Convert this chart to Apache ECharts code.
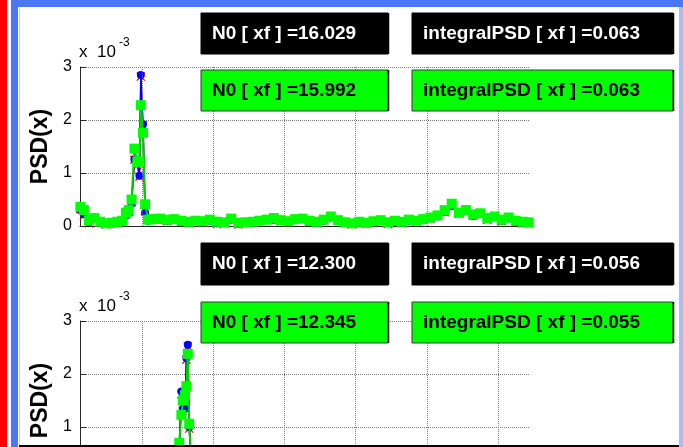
<!DOCTYPE html>
<html><head><meta charset="utf-8">
<script src="https://cdn.jsdelivr.net/npm/echarts@6/dist/echarts.min.js"></script>
<style>html,body{margin:0;padding:0;background:#fff}#c{width:683px;height:447px}</style>
</head><body><div id="c"></div>
<script>
// ---------- data (PSD values in units of 1e-3) ----------
const xTop = [1.3, 1.8, 2.5, 3.3, 4.1, 4.9, 5.7, 6.5, 7.2, 7.7, 8.1, 8.5, 8.9, 9.3, 9.6, 9.8, 10.1, 10.4, 10.8,
  11.5, 12.5, 13.5, 14.5, 15.5, 16.5, 17.5, 18.5, 19.5, 20.5, 21.5, 22.5, 23.5, 24.5, 25.5, 26.5, 27.5, 28.5, 29.5, 30.5,
  31.5, 32.5, 33.5, 34.5, 35.5, 36.5, 37.5, 38.5, 39.5, 40.5, 41.5, 42.5, 43.5, 44.5, 45.5, 46.5, 47.5, 48.5, 49.5, 50.5,
  51.5, 52.5, 53.5, 54.5, 55.5, 56.5, 57.5, 58.5, 59.5, 60.5, 61.5, 62.5, 63.5, 64.3];
const redTop = [0.32, 0.20, 0.05, 0.14, 0.07, 0.03, 0.06, 0.05, 0.09,
  0.22, 0.27, 0.45, 1.25, 1.15, 0.93, 2.82, 1.90, 0.28, 0.12,
  0.14, 0.13, 0.09, 0.12, 0.07, 0.05, 0.10, 0.06, 0.11, 0.04, 0.05, 0.11, 0.03, 0.06, 0.06, 0.10, 0.12, 0.13, 0.09, 0.06,
  0.12, 0.14, 0.07, 0.05, 0.11, 0.15, 0.10, 0.05, 0.03, 0.07, 0.04, 0.08, 0.09, 0.04, 0.09, 0.05, 0.11, 0.08, 0.12, 0.13,
  0.19, 0.26, 0.37, 0.23, 0.30, 0.20, 0.21, 0.12, 0.18, 0.09, 0.15, 0.07, 0.05, 0.05];
const blueTop = [0.30, 0.22, 0.06, 0.16, 0.06, 0.04, 0.05, 0.07, 0.08,
  0.20, 0.25, 0.42, 1.26, 1.18, 0.95, 2.85, 1.92, 0.25, 0.10,
  0.15, 0.12, 0.10, 0.11, 0.08, 0.06, 0.09, 0.07, 0.10, 0.05, 0.06, 0.12, 0.04, 0.05, 0.07, 0.09, 0.13, 0.12, 0.10, 0.07,
  0.11, 0.15, 0.08, 0.06, 0.10, 0.16, 0.09, 0.06, 0.04, 0.06, 0.05, 0.07, 0.10, 0.05, 0.08, 0.06, 0.10, 0.09, 0.11, 0.14,
  0.18, 0.27, 0.38, 0.24, 0.31, 0.19, 0.22, 0.13, 0.19, 0.10, 0.14, 0.08, 0.06, 0.06];
const greenTop = [0.36, 0.30, 0.10, 0.15, 0.08, 0.05, 0.06, 0.08, 0.10,
  0.25, 0.30, 0.50, 1.46, 1.20, 1.22, 2.28, 1.76, 0.41, 0.12,
  0.13, 0.14, 0.12, 0.13, 0.10, 0.08, 0.10, 0.09, 0.12, 0.08, 0.07, 0.14, 0.06, 0.07, 0.08, 0.10, 0.12, 0.15, 0.11, 0.09,
  0.13, 0.14, 0.10, 0.08, 0.12, 0.18, 0.11, 0.07, 0.05, 0.08, 0.06, 0.09, 0.11, 0.07, 0.10, 0.08, 0.12, 0.10, 0.13, 0.16,
  0.20, 0.30, 0.42, 0.25, 0.30, 0.22, 0.24, 0.15, 0.18, 0.12, 0.16, 0.10, 0.08, 0.07];

const xBottom = [1.3, 4.0, 7.0, 10.0, 12.5, 14.5, 15.0, 15.2, 15.5, 15.7, 16.0, 16.2, 16.4, 16.6, 16.9, 17.3,
  19.0, 24.0, 30.0, 36.0, 42.0, 48.0, 54.0, 60.0, 64.3];
const redBottom = [0.27, 0.11, 0.09, 0.13, 0.16, 0.22, 0.42, 0.62, 1.62, 1.30, 1.38, 2.27, 2.52, 0.97, 0.32, 0.13,
  0.11, 0.09, 0.12, 0.08, 0.11, 0.14, 0.19, 0.11, 0.07];
const blueBottom = [0.25, 0.10, 0.08, 0.12, 0.15, 0.20, 0.40, 0.65, 1.67, 1.34, 1.34, 2.30, 2.55, 1.00, 0.30, 0.12,
  0.10, 0.08, 0.11, 0.07, 0.10, 0.13, 0.18, 0.10, 0.06];
const greenBottom = [0.30, 0.12, 0.10, 0.14, 0.18, 0.25, 0.45, 0.70, 1.23, 1.50, 1.60, 1.77, 2.38, 1.06, 0.35, 0.15,
  0.12, 0.10, 0.13, 0.09, 0.11, 0.15, 0.20, 0.12, 0.08];

const xTicks = [10, 20, 30, 40, 50, 60];
const yAxisTitle = 'PSD(x)';
const scaleX = 'x';
const scaleBase = '10';
const scaleExp = '-3';
const boxTop = ['N0 [ xf ] =16.029', 'integralPSD [ xf ] =0.063'];
const boxTopFit = ['N0 [ xf ] =15.992', 'integralPSD [ xf ] =0.063'];
const boxBottom = ['N0 [ xf ] =12.300', 'integralPSD [ xf ] =0.056'];
const boxBottomFit = ['N0 [ xf ] =12.345', 'integralPSD [ xf ] =0.055'];

// ---------- build ----------
const FONT = '"Liberation Sans", Arial, Helvetica, sans-serif';
const chart = echarts.init(document.getElementById('c'), null, {renderer: 'canvas'});
const xfSymbol = 'path://M0,1L1,0L5,4L9,0L10,1L6,5L10,9L9,10L5,6L1,10L0,9L4,5Z';

function pairs(xs, ys) { return xs.map((x, i) => [x, ys[i]]); }
function lineSeries(gi, xs, ys, color, lineColor, symbol, size, z, lw) {
  return {
    type: 'line', xAxisIndex: gi, yAxisIndex: gi, data: pairs(xs, ys),
    symbol: symbol, symbolSize: size, showSymbol: true, z: z,
    lineStyle: {color: lineColor, width: lw},
    itemStyle: {color: color, borderWidth: 0},
    animation: false, silent: true
  };
}
function gridSeries(gi) {
  return {
    type: 'line', xAxisIndex: gi, yAxisIndex: gi, data: [], z: 1, animation: false,
    markLine: {
      silent: true, symbol: 'none', animation: false, label: {show: false},
      lineStyle: {type: 'dotted', color: '#7a7a7a', width: 1},
      data: xTicks.map(v => ({xAxis: v}))
    }
  };
}
function xAx(gi) {
  return {
    type: 'value', gridIndex: gi, min: 1.25, max: 64.5,
    axisLine: {show: true, lineStyle: {color: '#262626', width: 1}},
    axisTick: {show: false}, axisLabel: {show: false}, splitLine: {show: false}
  };
}
function yAx(gi) {
  return {
    type: 'value', gridIndex: gi, min: 0, max: 3, interval: 1,
    axisLine: {show: true, lineStyle: {color: '#262626', width: 1}},
    axisTick: {show: true, inside: true, length: 6, lineStyle: {color: '#262626'}},
    axisLabel: {fontSize: 16, color: '#000', margin: 8, fontFamily: FONT},
    splitLine: {show: true, lineStyle: {type: 'dotted', color: '#7a7a7a', width: 1}},
    name: yAxisTitle, nameLocation: 'middle', nameGap: 27, nameRotate: 90,
    nameTextStyle: {fontSize: 23, fontWeight: 'bold', color: '#000', fontFamily: FONT}
  };
}

const graphics = [];
function rect(x, y, w, h, fill) {
  graphics.push({type: 'rect', z: 100, shape: {x, y, width: w, height: h}, style: {fill}});
}
// window frame decorations
rect(0, 0, 7, 447, '#ff0000');
rect(11, 0, 7, 447, '#4a78f5');
rect(11, 0, 672, 7, '#4a78f5');
rect(679, 7, 4, 440, '#a9bcf7');
rect(19, 445, 660, 2, '#000000');
graphics.push({type: 'line', z: 100, shape: {x1: 19.5, y1: 7, x2: 19.5, y2: 445}, style: {stroke: '#cfcfcf', lineWidth: 1}});

function box(x, y, w, h, dark, text) {
  graphics.push({type: 'rect', z: 110, shape: {x, y, width: w, height: h},
    style: {fill: dark ? '#000000' : '#00ff00', stroke: dark ? '#000' : '#3a3a3a', lineWidth: 1}});
  graphics.push({type: 'line', z: 111, shape: {x1: x + w + 0.5, y1: y, x2: x + w + 0.5, y2: y + h},
    style: {stroke: '#000', lineWidth: 1.5}});
  graphics.push({type: 'text', z: 112, x: x + 11, y: y + h / 2,
    style: {text: text, fill: dark ? '#ffffff' : '#000000', font: 'bold 19px ' + FONT,
      verticalAlign: 'middle', align: 'left'}});
}
box(201, 13, 187, 41, true, boxTop[0]);
box(412, 13, 261, 41, true, boxTop[1]);
box(201, 70, 187, 41, false, boxTopFit[0]);
box(412, 70, 261, 41, false, boxTopFit[1]);
box(201, 243, 187, 42, true, boxBottom[0]);
box(412, 243, 261, 42, true, boxBottom[1]);
box(201, 302, 187, 41, false, boxBottomFit[0]);
box(412, 302, 261, 41, false, boxBottomFit[1]);

function scaleLabel(y) {
  graphics.push({type: 'text', z: 105, x: 79, y: y, style: {text: scaleX, fill: '#000', font: '17px ' + FONT, verticalAlign: 'middle'}});
  graphics.push({type: 'text', z: 105, x: 97, y: y, style: {text: scaleBase, fill: '#000', font: '17px ' + FONT, verticalAlign: 'middle'}});
  graphics.push({type: 'text', z: 105, x: 119, y: y - 9, style: {text: scaleExp, fill: '#000', font: '12px ' + FONT, verticalAlign: 'middle'}});
}
scaleLabel(52);
scaleLabel(306);

chart.setOption({
  backgroundColor: '#ffffff',
  animation: false,
  textStyle: {fontFamily: FONT},
  grid: [
    {left: 80, top: 67, width: 450, height: 159, outerBoundsMode: 'none', containLabel: false},
    {left: 80, top: 321, width: 450, height: 159, outerBoundsMode: 'none', containLabel: false}
  ],
  xAxis: [xAx(0), xAx(1)],
  yAxis: [yAx(0), yAx(1)],
  series: [
    gridSeries(0), gridSeries(1),
    lineSeries(0, xTop, redTop, '#ff0000', '#ff0000', xfSymbol, 9, 3, 1.5),
    lineSeries(0, xTop, blueTop, '#0000ff', '#0000ff', 'circle', 8, 4, 1.5),
    lineSeries(0, xTop, greenTop, '#00ff00', '#00d000', 'rect', 10, 5, 2),
    lineSeries(1, xBottom, redBottom, '#ff0000', '#ff0000', xfSymbol, 9, 3, 1.5),
    lineSeries(1, xBottom, blueBottom, '#0000ff', '#0000ff', 'circle', 8, 4, 1.5),
    lineSeries(1, xBottom, greenBottom, '#00ff00', '#00d000', 'rect', 10, 5, 2)
  ],
  graphic: graphics
});
</script></body></html>
